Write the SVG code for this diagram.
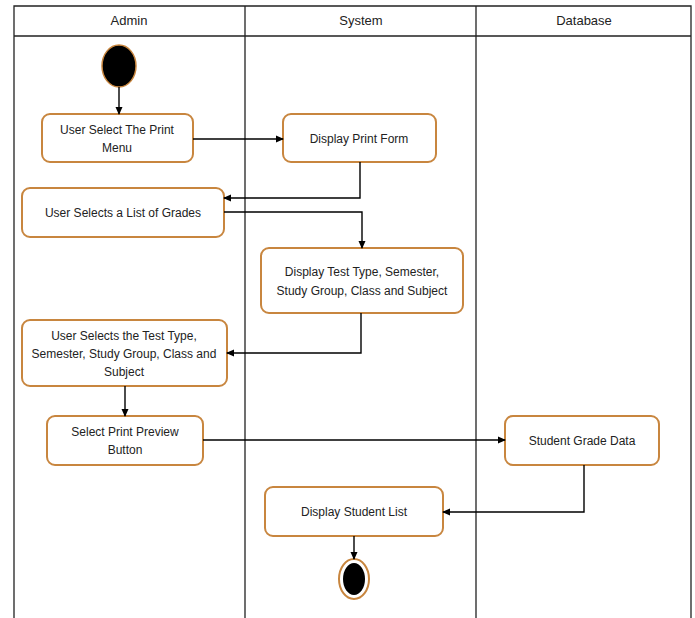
<svg xmlns="http://www.w3.org/2000/svg" width="695" height="618" viewBox="0 0 695 618">
<defs>
<marker id="arr" markerWidth="8" markerHeight="8" refX="7" refY="4" orient="auto" markerUnits="userSpaceOnUse">
<path d="M0,0.5 L8,4 L0,7.5 Z" fill="#000"/>
</marker>
<style>
.lane{fill:none;stroke:#222;stroke-width:1.3}
.node rect{fill:#fff;stroke:#c8863f;stroke-width:2}
.node text,.hdr{font-family:"Liberation Sans",Arial,sans-serif;font-size:12px;fill:#222;text-anchor:middle}
.hdr{font-size:13px}
.conn path{fill:none;stroke:#000;stroke-width:1.4;marker-end:url(#arr)}
</style>
</defs>
<rect width="695" height="618" fill="#fff"/>
<g id="lanes">
<path class="lane" d="M14,618 V6 H691 V618 M14,36 H691 M245,6 V618 M476,6 V618"/>
<text class="hdr" x="129" y="25">Admin</text>
<text class="hdr" x="361" y="25">System</text>
<text class="hdr" x="584" y="25">Database</text>
</g>
<g id="start">
<ellipse cx="119" cy="66" rx="17" ry="21" fill="#000" stroke="#c8863f" stroke-width="1.5"/>
</g>
<g id="n1" class="node"><rect x="42" y="114" width="151" height="48" rx="8"/><text x="117" y="134">User Select The Print</text><text x="117" y="152">Menu</text></g>
<g id="n2" class="node"><rect x="283" y="114" width="153" height="48" rx="8"/><text x="359" y="143">Display Print Form</text></g>
<g id="n3" class="node"><rect x="22" y="188" width="202" height="49" rx="8"/><text x="123" y="217">User Selects a List of Grades</text></g>
<g id="n4" class="node"><rect x="261" y="248" width="202" height="65" rx="8"/><text x="362" y="276">Display Test Type, Semester,</text><text x="362" y="295">Study Group, Class and Subject</text></g>
<g id="n5" class="node"><rect x="22" y="320" width="205" height="66" rx="8"/><text x="124" y="340">User Selects the Test Type,</text><text x="124" y="358">Semester, Study Group, Class and</text><text x="124" y="376">Subject</text></g>
<g id="n6" class="node"><rect x="47" y="416" width="156" height="49" rx="8"/><text x="125" y="436">Select Print Preview</text><text x="125" y="454">Button</text></g>
<g id="n7" class="node"><rect x="505" y="416" width="154" height="49" rx="8"/><text x="582" y="445">Student Grade Data</text></g>
<g id="n8" class="node"><rect x="265" y="487" width="178" height="49" rx="8"/><text x="354" y="516">Display Student List</text></g>
<g id="end">
<ellipse cx="354" cy="579" rx="15" ry="20" fill="#fff" stroke="#c8863f" stroke-width="2"/>
<ellipse cx="354" cy="579" rx="11" ry="16" fill="#000"/>
</g>
<g id="connectors" class="conn">
<path d="M119,87 V114"/>
<path d="M193,139 H283"/>
<path d="M360,162 V198 H224"/>
<path d="M224,212 H362 V248"/>
<path d="M361,313 V353 H227"/>
<path d="M125,386 V416"/>
<path d="M203,440 H505"/>
<path d="M584,465 V512 H443"/>
<path d="M354,536 V559"/>
</g>
</svg>
